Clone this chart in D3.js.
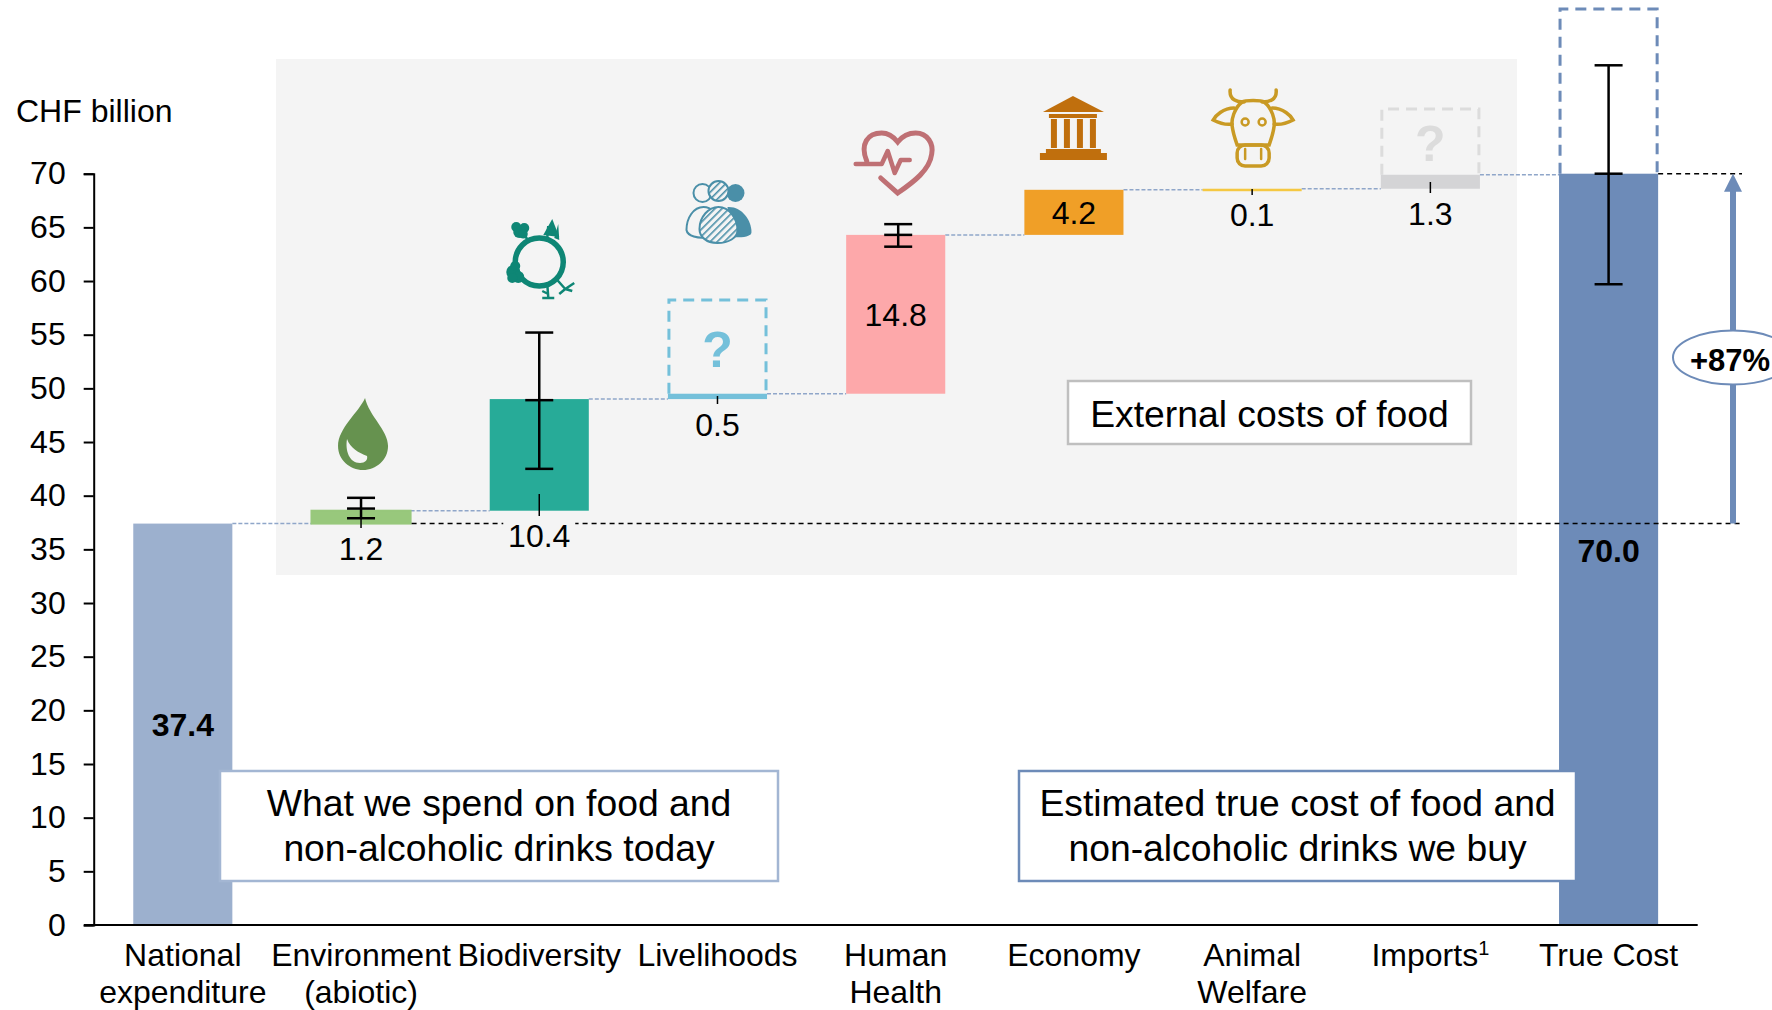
<!DOCTYPE html>
<html>
<head>
<meta charset="utf-8">
<script src="https://d3js.org/d3.v7.min.js"></script>
<style>
    html, body { margin: 0; padding: 0; background: #fff; overflow: hidden; }
    text { font-family: "Liberation Sans", Arial, sans-serif; fill: #000; }
</style>
</head>
<body>
<div id="chart"></div>
<script>
const categories = ["National expenditure", "Environment (abiotic)", "Biodiversity", "Livelihoods", "Human Health", "Economy", "Animal Welfare", "Imports", "True Cost"];
const category_lines = [["National", "expenditure"], ["Environment", "(abiotic)"], ["Biodiversity"], ["Livelihoods"], ["Human", "Health"], ["Economy"], ["Animal", "Welfare"], ["Imports"], ["True Cost"]];
const values = [37.4, 1.2, 10.4, 0.5, 14.8, 4.2, 0.1, 1.3, 70.0];
const bar_colors = ["#9cb0ce", "#98c87c", "#27ab98", "#74c0da", "#fda8aa", "#f09f27", "#f5c842", "#d4d4d6", "#6d8bb8"];
const y_ticks = [0, 5, 10, 15, 20, 25, 30, 35, 40, 45, 50, 55, 60, 65, 70];

const error_categories = ["Environment (abiotic)", "Biodiversity", "Human Health", "True Cost"];
const error_low = [37.9, 42.5, 63.2, 59.7];
const error_mid = [38.8, 48.9, 64.3, 70.0];
const error_high = [39.8, 55.2, 65.3, 80.1];

const width = 1772, height = 1010;
const svg = d3.select("#chart").append("svg")
    .attr("width", width)
    .attr("height", height)
    .style("display", "block");

const x = d3.scaleBand()
    .domain(categories)
    .range([93.7, 1697.7])
    .paddingInner(0.444)
    .paddingOuter(0.222);

const y = d3.scaleLinear()
    .domain([0, 70])
    .range([925, 173.7]);

const center = c => x(c) + x.bandwidth() / 2;

// waterfall: first and last bars stand on zero, the rest stack up
const starts = [0];
values.slice(1, 8).forEach((v, i) => {
    starts.push(i === 0 ? values[0] : starts[i] + values[i]);
});
starts.push(0);
const bars = categories.map((c, i) => ({ name: c, start: starts[i], end: starts[i] + values[i], value: values[i], color: bar_colors[i] }));
const by_name = name => bars.find(b => b.name === name);

// grey panel behind the external costs
svg.append("rect")
    .attr("x", 276).attr("y", 59)
    .attr("width", 1241).attr("height", 516)
    .attr("fill", "#f4f4f4");

// thin connectors between bars
bars.slice(0, 8).forEach((b, i) => {
    const next = bars[i + 1];
    svg.append("line")
        .attr("x1", x(b.name) + x.bandwidth())
        .attr("x2", x(next.name))
        .attr("y1", y(b.end))
        .attr("y2", y(b.end))
        .attr("stroke", "#8fa6c9")
        .attr("stroke-width", 1.5)
        .attr("stroke-dasharray", "4,2");
});

// dashed "?" boxes, open at the bottom where they sit on the bar
const unknown_boxes = [
    { name: "Livelihoods", top: 300, color: "#74c0da", stroke_width: 3 },
    { name: "Imports", top: 109, color: "#dcdcdc", stroke_width: 3 },
    { name: "True Cost", top: 9, color: "#6d8bb8", stroke_width: 3 }
];
unknown_boxes.forEach(d => {
    const bar = by_name(d.name);
    const left = x(d.name) + 1;
    const right = x(d.name) + x.bandwidth() - 1;
    svg.append("path")
        .attr("d", `M${left},${y(bar.end)}V${d.top}H${right}V${y(bar.end)}`)
        .attr("fill", "none")
        .attr("stroke", d.color)
        .attr("stroke-width", d.stroke_width)
        .attr("stroke-dasharray", "11,7");
});
svg.append("text")
    .attr("x", center("Livelihoods")).attr("y", 367)
    .attr("text-anchor", "middle")
    .style("font-size", "50px").style("font-weight", "bold").style("fill", "#74c0da")
    .text("?");
svg.append("text")
    .attr("x", center("Imports")).attr("y", 161)
    .attr("text-anchor", "middle")
    .style("font-size", "50px").style("font-weight", "bold").style("fill", "#dcdcdc")
    .text("?");

// bars
svg.selectAll(".bar")
    .data(bars)
    .enter().append("rect")
    .attr("class", "bar")
    .attr("x", d => x(d.name))
    .attr("y", d => y(d.end))
    .attr("width", x.bandwidth())
    .attr("height", d => Math.max(y(d.start) - y(d.end), 2.5))
    .attr("fill", d => d.color)
    .attr("stroke", d => d.name === "Environment (abiotic)" ? d.color : "none")
    .attr("stroke-width", 2);

// black reference lines
const base_level = values[0];
const top_level = values[8];
svg.append("line")
    .attr("x1", x("Environment (abiotic)") + x.bandwidth() + 1)
    .attr("x2", 1742)
    .attr("y1", y(base_level)).attr("y2", y(base_level))
    .attr("stroke", "#000").attr("stroke-width", 1.5).attr("stroke-dasharray", "5,4");
svg.append("line")
    .attr("x1", x("True Cost") + x.bandwidth())
    .attr("x2", 1742)
    .attr("y1", y(top_level)).attr("y2", y(top_level))
    .attr("stroke", "#000").attr("stroke-width", 1.5).attr("stroke-dasharray", "5,4");

// axes
const y_axis = svg.append("g")
    .attr("transform", `translate(${x.range()[0]},0)`)
    .call(d3.axisLeft(y).tickValues(y_ticks).tickSize(10).tickPadding(18));
y_axis.select(".domain").attr("stroke", "#000").attr("stroke-width", 2);
y_axis.selectAll(".tick line").attr("stroke", "#000").attr("stroke-width", 2);
y_axis.selectAll("text")
    .style("font-size", "32px")
    .style("font-family", "'Liberation Sans', Arial, sans-serif");

svg.append("line")
    .attr("x1", 84).attr("x2", x.range()[1])
    .attr("y1", y(0)).attr("y2", y(0))
    .attr("stroke", "#000").attr("stroke-width", 2);

svg.append("text")
    .attr("x", 16).attr("y", 122)
    .style("font-size", "32px")
    .text("CHF billion");

// category labels
categories.forEach((c, i) => {
    const label = svg.append("text")
        .attr("text-anchor", "middle")
        .style("font-size", "32px");
    category_lines[i].forEach((line, j) => {
        label.append("tspan")
            .attr("x", center(c))
            .attr("y", 966 + j * 37)
            .text(line);
    });
    if (c === "Imports") {
        label.append("tspan")
            .attr("dy", -11)
            .style("font-size", "20px")
            .text("1");
    }
});

// leader ticks under the small labels
const leader_tops = { "Environment (abiotic)": 518, "Biodiversity": 494, "Livelihoods": 396, "Animal Welfare": 189, "Imports": 182 };
const leader_bottoms = { "Environment (abiotic)": 528, "Biodiversity": 516, "Livelihoods": 404, "Animal Welfare": 195, "Imports": 193 };
Object.keys(leader_tops).forEach(c => {
    svg.append("line")
        .attr("x1", center(c)).attr("x2", center(c))
        .attr("y1", leader_tops[c]).attr("y2", leader_bottoms[c])
        .attr("stroke", "#000").attr("stroke-width", 1.5);
});

// gap in the dashed line under 10.4
svg.append("rect")
    .attr("x", center("Biodiversity") - 36).attr("y", 517)
    .attr("width", 72).attr("height", 38)
    .attr("fill", "#f4f4f4");

// value labels
const inside_labels = ["National expenditure", "Human Health", "Economy"];
bars.forEach(b => {
    let label_y = y(b.start) + 25;
    if (inside_labels.includes(b.name)) label_y = (y(b.start) + y(b.end)) / 2;
    if (b.name === "True Cost") label_y = y(base_level) + 27;
    const is_bold = b.name === "National expenditure" || b.name === "True Cost";
    svg.append("text")
        .attr("x", center(b.name))
        .attr("y", label_y)
        .attr("dy", "0.36em")
        .attr("text-anchor", "middle")
        .style("font-size", "32px")
        .style("font-weight", is_bold ? "bold" : "normal")
        .text(b.value.toFixed(1));
});

// error bars
const error_shift = { "Human Health": 2.5 };
error_categories.forEach((c, i) => {
    const ex = center(c) + (error_shift[c] || 0);
    const g = svg.append("g").attr("stroke", "#000").attr("stroke-width", 2.5);
    g.append("line").attr("x1", ex).attr("x2", ex).attr("y1", y(error_low[i])).attr("y2", y(error_high[i]));
    [error_low[i], error_mid[i], error_high[i]].forEach(v => {
        g.append("line")
            .attr("x1", ex - 14).attr("x2", ex + 14)
            .attr("y1", y(v)).attr("y2", y(v));
    });
});

// text boxes
function note_box(bx, by, bw, bh, stroke, lines, cy, size, gap) {
    svg.append("rect")
        .attr("x", bx).attr("y", by)
        .attr("width", bw).attr("height", bh)
        .attr("fill", "#fff")
        .attr("stroke", stroke)
        .attr("stroke-width", 2.5);
    lines.forEach((line, i) => {
        svg.append("text")
            .attr("x", bx + bw / 2)
            .attr("y", cy + i * gap)
            .attr("dy", "0.36em")
            .attr("text-anchor", "middle")
            .style("font-size", size + "px")
            .text(line);
    });
}
note_box(1068, 381, 403, 63, "#bfbfbf", ["External costs of food"], 414, 37.3, 0);
note_box(220, 771, 558, 110, "#a3b6d3", ["What we spend on food and", "non-alcoholic drinks today"], 803, 37.3, 45);
note_box(1019, 771, 557, 110, "#6d8bb8", ["Estimated true cost of food and", "non-alcoholic drinks we buy"], 803, 37.3, 45);

// +87% arrow
const arrow_x = 1733;
svg.append("line")
    .attr("x1", arrow_x).attr("x2", arrow_x)
    .attr("y1", y(base_level)).attr("y2", y(top_level) + 14)
    .attr("stroke", "#6d8bb8").attr("stroke-width", 6);
svg.append("path")
    .attr("d", `M${arrow_x},${y(top_level)}l9,18h-18z`)
    .attr("fill", "#6d8bb8");
svg.append("ellipse")
    .attr("cx", arrow_x).attr("cy", 357.5)
    .attr("rx", 60).attr("ry", 27)
    .attr("fill", "#fff")
    .attr("stroke", "#6d8bb8")
    .attr("stroke-width", 2);
svg.append("text")
    .attr("x", 1730).attr("y", 360)
    .attr("dy", "0.36em")
    .attr("text-anchor", "middle")
    .style("font-size", "31px").style("font-weight", "bold")
    .text("+87%");

// icons
const hatch = svg.append("defs").append("pattern")
    .attr("id", "hatch")
    .attr("width", 5).attr("height", 5)
    .attr("patternUnits", "userSpaceOnUse")
    .attr("patternTransform", "rotate(-45)");
hatch.append("rect").attr("width", 5).attr("height", 5).attr("fill", "#f4f4f4");
hatch.append("rect").attr("width", 5).attr("height", 1.6).attr("fill", "#4a8fa8");

const icon = (c, dx, icon_y) => svg.append("g").attr("transform", `translate(${center(c) + dx},${icon_y})`);

// drop
const drop = icon("Environment (abiotic)", 2, 434);
drop.append("path")
    .attr("d", "M2,-36 C-4,-22 -25,-6 -25,12 C-25,26 -13,36 0,36 C13,36 25,26 25,12 C25,-4 6,-18 2,-36Z")
    .attr("fill", "#66924f");
drop.append("path")
    .attr("d", "M-16,5 C-18,16 -14,29 -3,29 C2,29 5,26 4,22 C-4,19 -13,14 -16,5Z")
    .attr("fill", "#f4f4f4");

// planet with plants
const planet = icon("Biodiversity", 0, 262).attr("fill", "#0e8675").attr("stroke", "none");
planet.append("circle").attr("r", 24).attr("fill", "none").attr("stroke", "#0e8675").attr("stroke-width", 5.5);
[[-20, -30, 6], [-15, -34, 5], [-23, -35, 5], [-16, -28, 4.5], [-26, 10, 7], [-21, 15, 6], [-27, 16, 5], [-24, 4, 5]].forEach(d => {
    planet.append("circle").attr("cx", d[0]).attr("cy", d[1]).attr("r", d[2]);
});
planet.append("path").attr("d", "M13,-43 L4,-27 L20,-25Z");
planet.append("path").attr("d", "M19,-38 L15,-24 L20,-22Z");
planet.append("path")
    .attr("d", "M-14,-26 L-11,-21 M9,-36 L8,-24 M8,22 L9,35 M3,36 L15,36 M9,32 L3,29 M18,18 L26,27 M26,27 L35,21 M26,27 L20,32 M26,27 L33,29")
    .attr("fill", "none").attr("stroke", "#0e8675").attr("stroke-width", 2.5);

// people
const people = icon("Livelihoods", 0, 212);
const person_stroke = "#4a8fa8";
people.append("path").attr("d", "M-8,25 C-20,27 -30,24 -31,18 C-31,6 -24,-5 -14,-5 C-6,-5 0,2 0,10Z")
    .attr("fill", "#f4f4f4").attr("stroke", person_stroke).attr("stroke-width", 2);
people.append("path").attr("d", "M10,-5 C24,-6 34,8 34,20 C34,24 28,26 14,25Z").attr("fill", person_stroke);
people.append("path").attr("d", "M0,31 C-12,31 -18,24 -18,17 C-18,5 -9,-5 1,-5 C12,-5 20,7 20,18 C20,26 11,31 0,31Z")
    .attr("fill", "url(#hatch)").attr("stroke", person_stroke).attr("stroke-width", 2);
people.append("circle").attr("cx", -15).attr("cy", -19).attr("r", 9).attr("fill", "#f4f4f4").attr("stroke", person_stroke).attr("stroke-width", 2);
people.append("circle").attr("cx", 18).attr("cy", -19).attr("r", 9).attr("fill", person_stroke);
people.append("circle").attr("cx", 1).attr("cy", -21).attr("r", 10).attr("fill", "url(#hatch)").attr("stroke", person_stroke).attr("stroke-width", 2);

// heart
const heart = icon("Human Health", 0, 162).attr("fill", "none").attr("stroke", "#bf7074").attr("stroke-linecap", "round");
heart.append("path")
    .attr("d", "M-29,-1 C-36,-18 -28,-29 -14,-29 C-7,-29 -2,-25 2,-20 C6,-25 11,-29 20,-29 C32,-29 38,-18 36,-8 C34,8 18,20 2,31 L-15,16")
    .attr("stroke-width", 5);
heart.append("path")
    .attr("d", "M-40,2 L-14,2 L-8,-11 L-1,11 L5,-2 L14,-2")
    .attr("stroke-width", 4.5)
    .attr("stroke-linejoin", "round");

// temple
const temple = icon("Economy", -1, 128).attr("fill", "#c06f0d");
temple.append("path").attr("d", "M0,-32 L31,-16 L-30,-16Z");
temple.append("rect").attr("x", -24).attr("y", -14).attr("width", 48).attr("height", 4);
[-22, -9, 4, 17].forEach(cx => {
    temple.append("rect").attr("x", cx).attr("y", -9).attr("width", 6).attr("height", 29);
});
temple.append("rect").attr("x", -27).attr("y", 21).attr("width", 55).attr("height", 4);
temple.append("rect").attr("x", -33).attr("y", 25).attr("width", 67).attr("height", 7);

// cow
const cow = icon("Animal Welfare", 1, 128).attr("fill", "none").attr("stroke", "#c99a24").attr("stroke-width", 3.5).attr("stroke-linecap", "round");
cow.append("path").attr("d", "M-23,-38 C-24,-28 -16,-26 -9,-26 M23,-38 C24,-28 16,-26 9,-26");
cow.append("path").attr("d", "M-11,-26 C-8,-28 8,-28 11,-26 C19,-20 22,-8 21,-2 C20,6 17,14 16,17 L-16,17 C-17,14 -20,6 -21,-2 C-22,-8 -19,-20 -11,-26Z");
cow.append("rect").attr("x", -16).attr("y", 17).attr("width", 32).attr("height", 21).attr("rx", 8);
cow.append("path").attr("d", "M-19,-20 C-30,-20 -38,-12 -40,-8 C-34,-5 -26,-3 -21,-4 M19,-20 C30,-20 38,-12 40,-8 C34,-5 26,-3 21,-4");
cow.append("circle").attr("cx", -8).attr("cy", -6).attr("r", 3.5).attr("stroke-width", 2.5);
cow.append("circle").attr("cx", 9).attr("cy", -6).attr("r", 3.5).attr("stroke-width", 2.5);
cow.append("path").attr("d", "M-8,21 V31 M8,21 V31").attr("stroke-width", 2.5);
</script>
</body>
</html>
